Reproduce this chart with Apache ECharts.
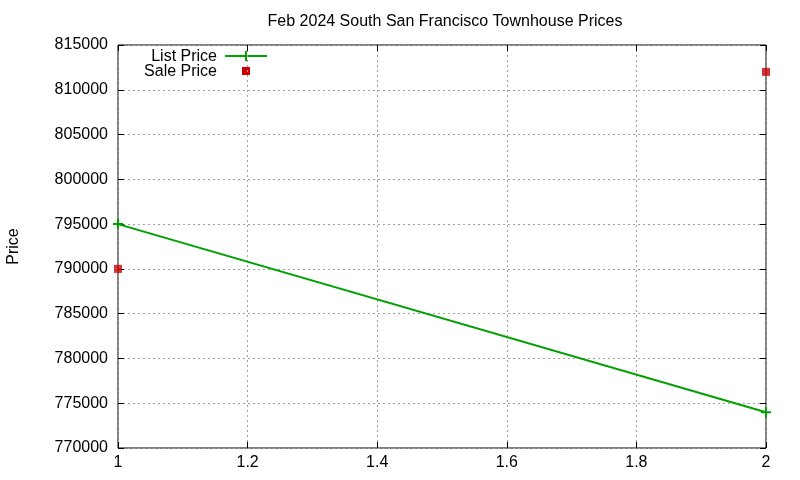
<!DOCTYPE html>
<html>
<head>
<meta charset="utf-8">
<script src="https://cdn.jsdelivr.net/npm/echarts@6/dist/echarts.min.js"></script>
<style>
  html, body { margin: 0; padding: 0; background: #fff; }
  #main { width: 800px; height: 480px; }
</style>
</head>
<body>
<div id="main"></div>
<script>
// data
const xValues = [1, 2];
const listPrice = [795000, 774000];
const salePrice = [790000, 812000];

const font = "Liberation Sans, Arial, sans-serif";
const green = "#00a000";
const red = "#cc0000";

const chart = echarts.init(document.getElementById("main"));

const pairs = (ys) => xValues.map((x, i) => [x, ys[i]]);

const gridLine = { show: true, lineStyle: { color: "#a0a0a0", type: [2, 3], width: 1 } };

const option = {
  animation: false,
  backgroundColor: "#fff",
  title: {
    text: "Feb 2024 South San Francisco Townhouse Prices",
    left: 440,
    top: 9,
    textAlign: "center",
    textStyle: { fontFamily: font, fontSize: 16, fontWeight: "normal", color: "#000" },
  },
  grid: {
    left: 118, right: 34, top: 45, bottom: 32,
    containLabel: false, outerBoundsMode: "none",
    show: true, borderColor: "#000", borderWidth: 1,
  },
  xAxis: [
    {
      type: "value", min: 1, max: 2, interval: 0.2,
      axisLine: { show: false },
      axisTick: { show: true, inside: true, length: 6, lineStyle: { color: "#000" } },
      axisLabel: { color: "#000", fontFamily: font, fontSize: 16, margin: 7 },
      splitLine: gridLine,
    },
    {
      type: "value", min: 1, max: 2, interval: 0.2, position: "top",
      axisLine: { show: false },
      axisTick: { show: true, inside: true, length: 6, lineStyle: { color: "#000" } },
      axisLabel: { show: false },
      splitLine: { show: false },
    },
  ],
  yAxis: [
    {
      type: "value", min: 770000, max: 815000, interval: 5000,
      name: "Price", nameLocation: "middle", nameGap: 96, nameRotate: 90,
      nameTextStyle: { color: "#000", fontFamily: font, fontSize: 16 },
      axisLine: { show: false },
      axisTick: { show: true, inside: true, length: 6, lineStyle: { color: "#000" } },
      axisLabel: { color: "#000", fontFamily: font, fontSize: 16, margin: 10, formatter: (v) => String(v) },
      splitLine: gridLine,
    },
    {
      type: "value", min: 770000, max: 815000, interval: 5000, position: "right",
      axisLine: { show: false },
      axisTick: { show: true, inside: true, length: 6, lineStyle: { color: "#000" } },
      axisLabel: { show: false },
      splitLine: { show: false },
    },
  ],
  series: [
    {
      name: "List Price",
      type: "line",
      data: pairs(listPrice),
      symbol: "path://M0,5H10M5,0V10",
      symbolSize: 10,
      showSymbol: true,
      itemStyle: { color: "transparent", borderColor: green, borderWidth: 2 },
      lineStyle: { color: green, width: 2 },
      clip: false,
    },
    {
      name: "Sale Price",
      type: "scatter",
      data: pairs(salePrice),
      symbol: "rect",
      symbolSize: 8,
      itemStyle: { color: red },
      clip: false,
    },
  ],
  graphic: [
    {
      type: "text", right: 800 - 217, top: 49,
      style: { text: "List Price", fill: "#000", font: "16px " + font, textAlign: "right" },
    },
    {
      type: "text", right: 800 - 217, top: 64,
      style: { text: "Sale Price", fill: "#000", font: "16px " + font, textAlign: "right" },
    },
    {
      type: "line",
      shape: { x1: 225, y1: 56, x2: 267, y2: 56 },
      style: { stroke: green, lineWidth: 2 },
    },
    {
      type: "line",
      shape: { x1: 246, y1: 51, x2: 246, y2: 61 },
      style: { stroke: green, lineWidth: 2 },
    },
    {
      type: "rect",
      shape: { x: 242, y: 67, width: 8, height: 8 },
      style: { fill: red },
    },
  ],
};

chart.setOption(option);
</script>
</body>
</html>
